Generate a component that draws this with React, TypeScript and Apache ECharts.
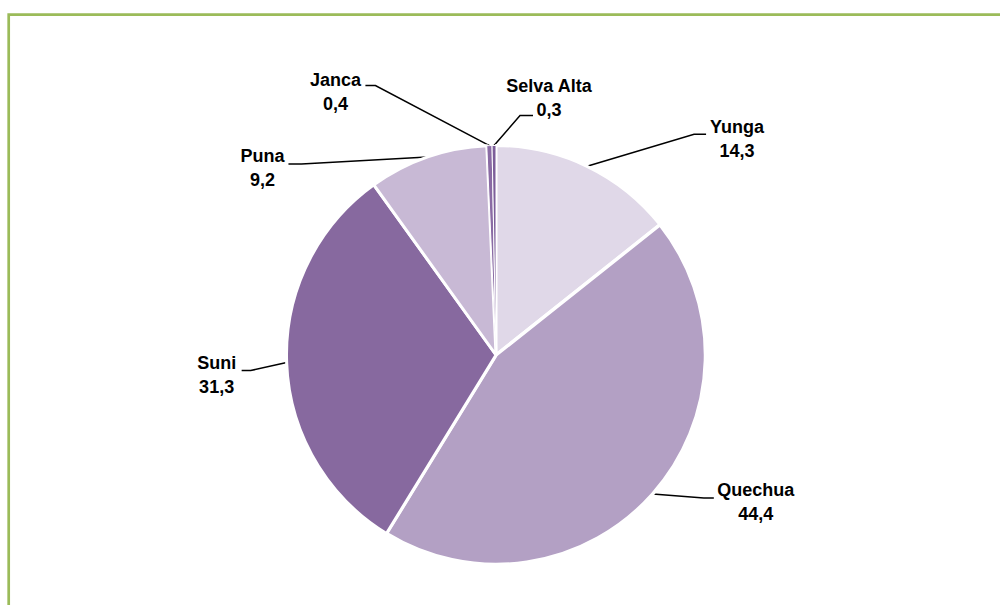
import React, { useEffect, useRef } from 'react';
import * as echarts from 'echarts';

const categories = ['Yunga', 'Quechua', 'Suni', 'Puna', 'Janca', 'Selva Alta'];
const values = [14.3, 44.4, 31.3, 9.2, 0.4, 0.3];
const colors = ['#E0D8E8', '#B3A0C4', '#87699F', '#C8B9D5', '#8A6BA4', '#7D5E9A'];
const borderWidths = [3, 3.5, 3, 3, 1, 1];

// Leader line styling: bend offset from the slice edge point, horizontal tail, label centre offset from line end
const leaderBend = [[107, -32], [51, 4], [-36, 8], [-126, 7], [-114, -60], [26, -30]];
const leaderTail = [12, 10, -9, -13, -10, 13];
const labelShift = [[31, 5], [42, 4.5], [-25, 4], [-26, 4], [-30, 6.5], [16, -18]];

const fmt = (v: number) => v.toFixed(1).replace('.', ',');

export default function App() {
  const ref = useRef<HTMLDivElement>(null);
  useEffect(() => {
    if (!ref.current) return;
    const chart = echarts.init(ref.current, undefined, { renderer: 'svg' });
    chart.setOption({
      animation: false,
      backgroundColor: '#ffffff',
      graphic: [
        {
          type: 'rect',
          shape: { x: 8.7, y: 14.7, width: 1300, height: 900 },
          style: { fill: 'none', stroke: '#9BBB59', lineWidth: 2.7 },
          silent: true,
        },
      ],
      series: [
        {
          type: 'pie',
          center: [496, 355],
          radius: 209.5,
          startAngle: 90,
          clockwise: true,
          avoidLabelOverlap: false,
          data: categories.map((c, i) => ({
            name: c,
            value: values[i],
            itemStyle: { color: colors[i], borderColor: '#ffffff', borderWidth: borderWidths[i] },
          })),
          label: {
            show: true,
            position: 'outside',
            formatter: (p: any) => `${p.name}\n${fmt(p.value)}`,
            fontFamily: 'Liberation Sans, Arial, sans-serif',
            fontWeight: 'bold',
            fontSize: 18,
            lineHeight: 24,
            color: '#000000',
          },
          labelLine: {
            show: true,
            length: 20,
            length2: 10,
            smooth: false,
            lineStyle: { color: '#000000', width: 1.5 },
          },
          labelLayout: (p: any) => {
            const i = p.dataIndex;
            const pts = p.labelLinePoints;
            if (!pts) return {};
            const p0 = pts[0];
            const bend = [p0[0] + leaderBend[i][0], p0[1] + leaderBend[i][1]];
            const end = [bend[0] + leaderTail[i], bend[1]];
            return {
              x: end[0] + labelShift[i][0],
              y: end[1] + labelShift[i][1],
              align: 'center',
              verticalAlign: 'middle',
              labelLinePoints: [p0, bend, end],
            };
          },
          emphasis: { disabled: true },
        },
      ],
    });
    return () => chart.dispose();
  }, []);
  return (
    <div
      ref={ref}
      style={{ position: 'absolute', left: 0, top: 0, width: 1000, height: 605 }}
    />
  );
}
